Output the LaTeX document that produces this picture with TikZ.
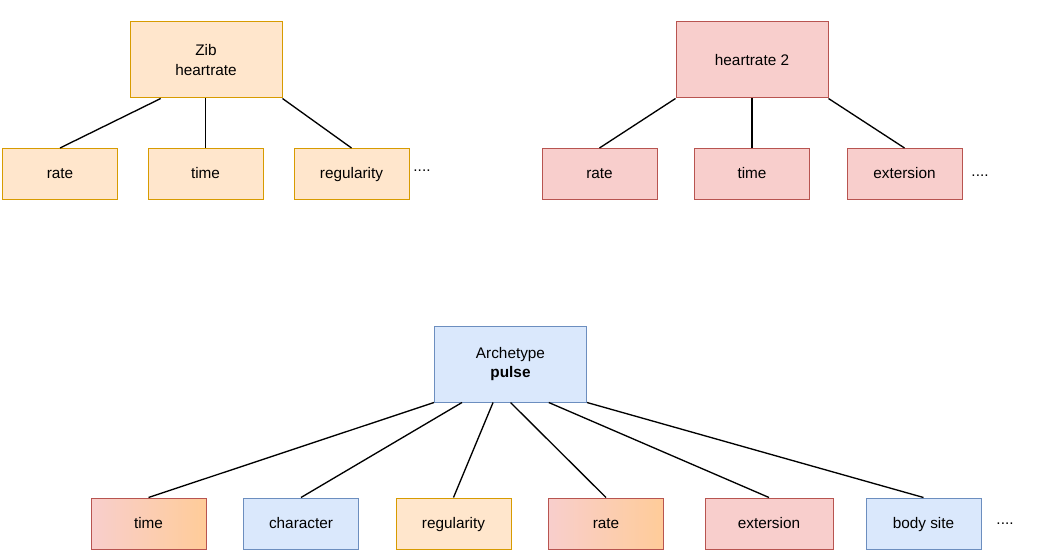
\documentclass[tikz,border=0pt]{standalone}
\usepackage{fontspec}
\setmainfont{Liberation Sans}
\usepackage{xcolor}
\usepackage{tikz}
\usetikzlibrary{positioning,calc}

\definecolor{zibfill}{HTML}{FFE6CC}
\definecolor{zibline}{HTML}{D79B00}
\definecolor{hrfill}{HTML}{F8CECC}
\definecolor{hrline}{HTML}{B85450}
\definecolor{archfill}{HTML}{DAE8FC}
\definecolor{archline}{HTML}{6C8EBF}
\definecolor{mixright}{HTML}{FFCC99}

\tikzset{
    box/.style={draw, rectangle, line width=0.75pt, inner sep=0pt, align=center,
        minimum width=86.25pt, minimum height=38.25pt,
        text height=1.85ex, text depth=0.45ex,
        font=\fontsize{11.5}{14.3}\selectfont},
    topbox/.style={box, minimum width=114pt, minimum height=57pt,
        text height=, text depth=},
    zib/.style={draw=zibline, fill=zibfill},
    hr/.style={draw=hrline, fill=hrfill},
    arch/.style={draw=archline, fill=archfill},
    mix/.style={draw=hrline, left color=hrfill, right color=mixright},
    more/.style={inner sep=0pt, font=\fontsize{11.5}{14.3}\selectfont},
    link/.style={line width=1pt}
}

\begin{document}
\begin{tikzpicture}[x=0.75pt, y=-0.75pt]
    \useasboundingbox (0,0) rectangle (1046,556);

    % Zib heartrate
    \node[topbox, zib] (Zib) at (206,60) {Zib\\heartrate};
    \node[box, zib] (ZRate) at (60,174) {rate};
    \node[box, zib] (ZTime) at (205.5,174) {time};
    \node[box, zib] (ZReg) at (351.5,174) {regularity};
    \node[more] (ZMore) at (422,171) {....};
    \draw[link] ($(Zib.south west)!0.204!(Zib.south east)$) -- (ZRate.north);
    \draw[link] (ZTime.north |- Zib.south) -- (ZTime.north);
    \draw[link] (Zib.south east) -- (ZReg.north);

    % heartrate 2
    \node[topbox, hr] (HR) at (752,60) {heartrate 2};
    \node[box, hr] (HRate) at (599.5,174) {rate};
    \node[box, hr] (HTime) at (752,174) {time};
    \node[box, hr] (HExt) at (904.5,174) {extersion};
    \node[more] (HMore) at (980,176) {....};
    \draw[link] (HR.south west) -- (HRate.north);
    \draw[link] (HR.south) -- (HTime.north);
    \draw[link] (HR.south east) -- (HExt.north);

    % Archetype pulse
    \node[topbox, arch] (Pulse) at (510.5,364) {Archetype\\\textbf{pulse}};
    \node[box, mix] (PTime) at (148.5,523.5) {time};
    \node[box, arch] (PChar) at (301,523.5) {character};
    \node[box, zib] (PReg) at (453.5,523.5) {regularity};
    \node[box, mix] (PRate) at (606,523.5) {rate};
    \node[box, hr, minimum width=96pt] (PExt) at (769,523.5) {extersion};
    \node[box, arch] (PSite) at (923.5,523.5) {body site};
    \node[more] (PMore) at (1005,524) {....};
    \draw[link] (Pulse.south west) -- (PTime.north);
    \draw[link] ($(Pulse.south west)!0.183!(Pulse.south east)$) -- (PChar.north);
    \draw[link] ($(Pulse.south west)!0.386!(Pulse.south east)$) -- (PReg.north);
    \draw[link] (Pulse.south) -- (PRate.north);
    \draw[link] ($(Pulse.south west)!0.75!(Pulse.south east)$) -- (PExt.north);
    \draw[link] (Pulse.south east) -- (PSite.north);
\end{tikzpicture}
\end{document}
